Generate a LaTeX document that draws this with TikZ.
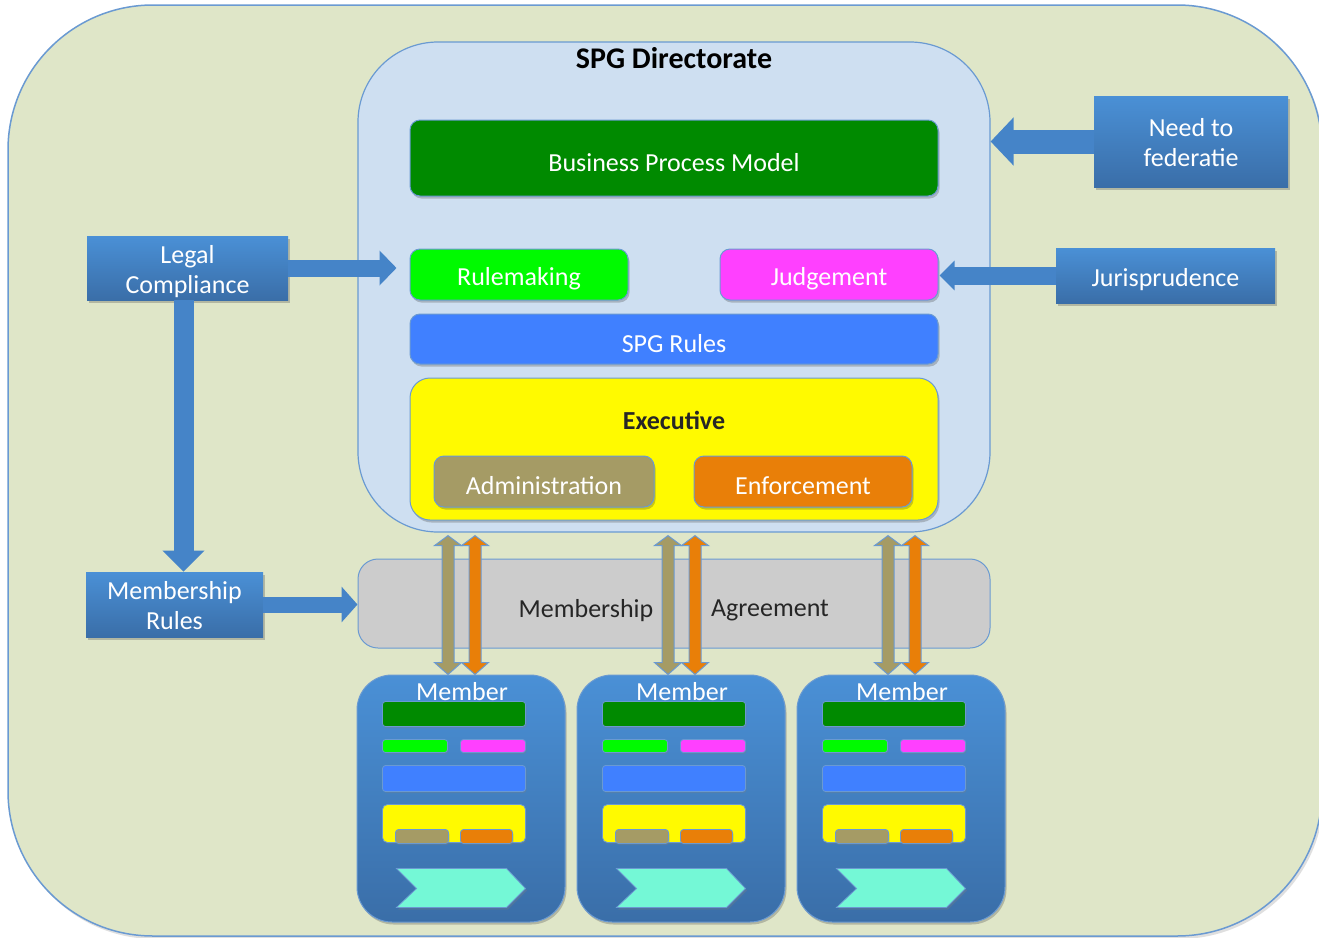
\documentclass[tikz,border=0pt]{standalone}
\usepackage{fontspec}
\setmainfont{Carlito}
\usepackage{tikz}
\usetikzlibrary{calc,shadows,arrows.meta}

\newdimen\px \px=0.5pt
% text sits a little low in its box, as in the slide
\newcommand{\lowered}[1]{\raisebox{-2.2pt}[\height][\depth]{#1}}
\newcommand{\twolines}[2]{\lowered{\begin{tabular}{@{}c@{}}#1\\#2\end{tabular}}}

\definecolor{bgolive}{HTML}{DFE6C8}
\definecolor{dirblue}{HTML}{CEDFF1}
\definecolor{edgeblue}{HTML}{6A9AD2}
\definecolor{bpmgreen}{HTML}{008A00}
\definecolor{rulegreen}{HTML}{00FA00}
\definecolor{judgepink}{HTML}{FF40FF}
\definecolor{rulesblue}{HTML}{4080FF}
\definecolor{execyellow}{HTML}{FFFA00}
\definecolor{adminkhaki}{HTML}{A59B65}
\definecolor{enforceorange}{HTML}{E97F08}
\definecolor{agreegrey}{HTML}{CCCCCC}
\definecolor{boxtop}{HTML}{4A90D6}
\definecolor{boxbottom}{HTML}{3A6EA8}
\definecolor{flowblue}{HTML}{4584C8}
\definecolor{chevcyan}{HTML}{74F8D6}

\tikzset{
  softshadow/.style={drop shadow={shadow xshift=1.5\px, shadow yshift=-2.5\px, opacity=0.3, fill=black!70}},
  panel/.style={draw=edgeblue, line width=1\px, rounded corners=10\px, text=white, softshadow},
  bluebox/.style={top color=boxtop, bottom color=boxbottom, text=white, inner sep=0pt, softshadow},
  member/.style={draw=edgeblue, line width=1\px, rounded corners=35\px, top color=boxtop, bottom color=boxbottom,
    minimum width=208\px, minimum height=247\px, softshadow},
  mini/.style={draw=edgeblue, line width=0.8\px, rounded corners=3\px, drop shadow={shadow xshift=1\px, shadow yshift=-1.5\px, opacity=0.3}},
  % block arrows: shaft width, head length, head width (in pt)
  flow/.style n args={3}{draw=flowblue, line width=#1, -{Triangle[length=#2, width=#3]}},
  pair/.style={draw=edgeblue, line width=1\px}
}

\begin{document}
\begin{tikzpicture}[x=1\px, y=-1\px, font=\fontsize{13}{15}\selectfont]
    %%% CANVAS %%%
    \fill[white] (0,0) rectangle (1319,938);
    \useasboundingbox (0,0) rectangle (1319,938);
    \draw[draw=edgeblue, line width=1.5\px, fill=bgolive, rounded corners=145\px,
      drop shadow={shadow xshift=2\px, shadow yshift=-3\px, opacity=0.25}] (8,5) rectangle (1322,936);

    %%% DIRECTORATE %%%
    \node[draw=edgeblue, line width=1.2\px, fill=dirblue, rounded corners=80\px,
      minimum width=632\px, minimum height=490\px] (dir) at (674,287) {};
    \node[font=\fontsize{15}{17}\selectfont\bfseries] (dirtitle) at (674,58) {SPG Directorate};

    \node[panel, fill=bpmgreen, minimum width=528\px, minimum height=76\px] (bpm) at (674,158) {\lowered{Business Process Model}};
    \node[panel, fill=rulegreen, minimum width=218\px, minimum height=51\px] (rule) at (519,274.5) {\lowered{Rulemaking}};
    \node[panel, fill=judgepink, minimum width=218\px, minimum height=51\px] (judge) at (829,274.5) {\lowered{Judgement}};
    \node[panel, fill=rulesblue, minimum width=528\px, minimum height=50\px] (rules) at (674,339) {\lowered{SPG Rules}};
    \node[panel, fill=execyellow, rounded corners=20\px, minimum width=528\px, minimum height=142\px] (exec) at (674,449) {};
    \node[text=black!85, font=\fontsize{13}{15}\selectfont\bfseries] (execlabel) at (674,420) {Executive};
    \node[panel, fill=adminkhaki, minimum width=220\px, minimum height=51\px] (admin) at (544,481.5) {\lowered{Administration}};
    \node[panel, fill=enforceorange, minimum width=218\px, minimum height=51\px] (enforce) at (803,481.5) {\lowered{Enforcement}};

    %%% AGREEMENT %%%
    \node[draw=edgeblue, line width=1\px, fill=agreegrey, rounded corners=20\px,
      minimum width=632\px, minimum height=89\px] (agree) at (674,603.5) {};
    \node[text=black!85] (agreeleft) at (586,606) {\lowered{Membership}};
    \node[text=black!85] (agreeright) at (770,606) {\lowered{Agreement}};

    %%% OUTSIDE BOXES %%%
    \node[bluebox, minimum width=201\px, minimum height=64\px] (legal) at (187.5,268) {\twolines{Legal}{Compliance}};
    \node[bluebox, minimum width=177\px, minimum height=65\px] (mrules) at (174.5,604.5) {\twolines{Membership}{Rules}};
    \node[bluebox, minimum width=194\px, minimum height=91\px] (need) at (1191,141.5) {\twolines{Need to}{federatie}};
    \node[bluebox, minimum width=219\px, minimum height=55\px] (juris) at (1165.5,275.5) {\lowered{Jurisprudence}};

    %%% BLOCK ARROWS %%%
    \draw[flow={8.5pt}{8.5pt}{17pt}, shorten >=13\px] (legal.east) -- (legal.east -| rule.west);
    \draw[flow={10pt}{10.5pt}{20.5pt}] ([xshift=-4\px]legal.south) -- ([xshift=-4\px]legal.south |- mrules.north);
    \draw[flow={8pt}{8pt}{17.5pt}] (mrules.east) -- (mrules.east -| agree.west);
    \draw[flow={12pt}{11.5pt}{23.5pt}] (need.west) -- (need.west -| dir.east);
    \draw[flow={9pt}{7.5pt}{14.5pt}, shorten >=1\px] (juris.west) -- (juris.west -| judge.east);

    %%% MEMBERS %%%
    \foreach \m/\x in {m1/461, m2/681, m3/901}{
        \node[member] (\m) at (\x,798.5) {};
        \node[text=white] (\m label) at ($(\m.north)+(1,17)$) {Member};
        \begin{scope}[shift={(\m.north west)}]
            \draw[mini, fill=bpmgreen] (26,27) rectangle (169,52);
            \draw[mini, fill=rulegreen] (26,65) rectangle (91,78);
            \draw[mini, fill=judgepink] (104,65) rectangle (169,78);
            \draw[mini, fill=rulesblue] (26,91) rectangle (169,117);
            \draw[mini, fill=execyellow, rounded corners=5\px] (26,130) rectangle (169,168);
            \draw[mini, fill=adminkhaki] (39,155) rectangle (92,169);
            \draw[mini, fill=enforceorange] (104,155) rectangle (156,169);
            \draw[draw=edgeblue, line width=0.8\px, fill=chevcyan,
              drop shadow={shadow xshift=1.5\px, shadow yshift=-2\px, opacity=0.3}]
              (40,194) -- (150,194) -- (169,214) -- (150,233) -- (40,233) -- (60,214) -- cycle;
        \end{scope}
        %%% TWO-WAY ARROWS %%%
        \foreach \dx/\c in {-13/adminkhaki, 14/enforceorange}{
            \coordinate (bot) at ([xshift=\dx\px]\m.north);
            \coordinate (top) at ([yshift=-3\px]bot |- dir.south);
            \filldraw[pair, fill=\c] (top) -- ++(13.5,10) -- ++(-7.5,0) -- ($(bot)+(6,-12)$)
              -- ++(7.5,0) -- (bot) -- ++(-13.5,-12) -- ++(7.5,0) -- ($(top)+(-6,10)$) -- ++(-7.5,0) -- cycle;
        }
    }
\end{tikzpicture}
\end{document}
